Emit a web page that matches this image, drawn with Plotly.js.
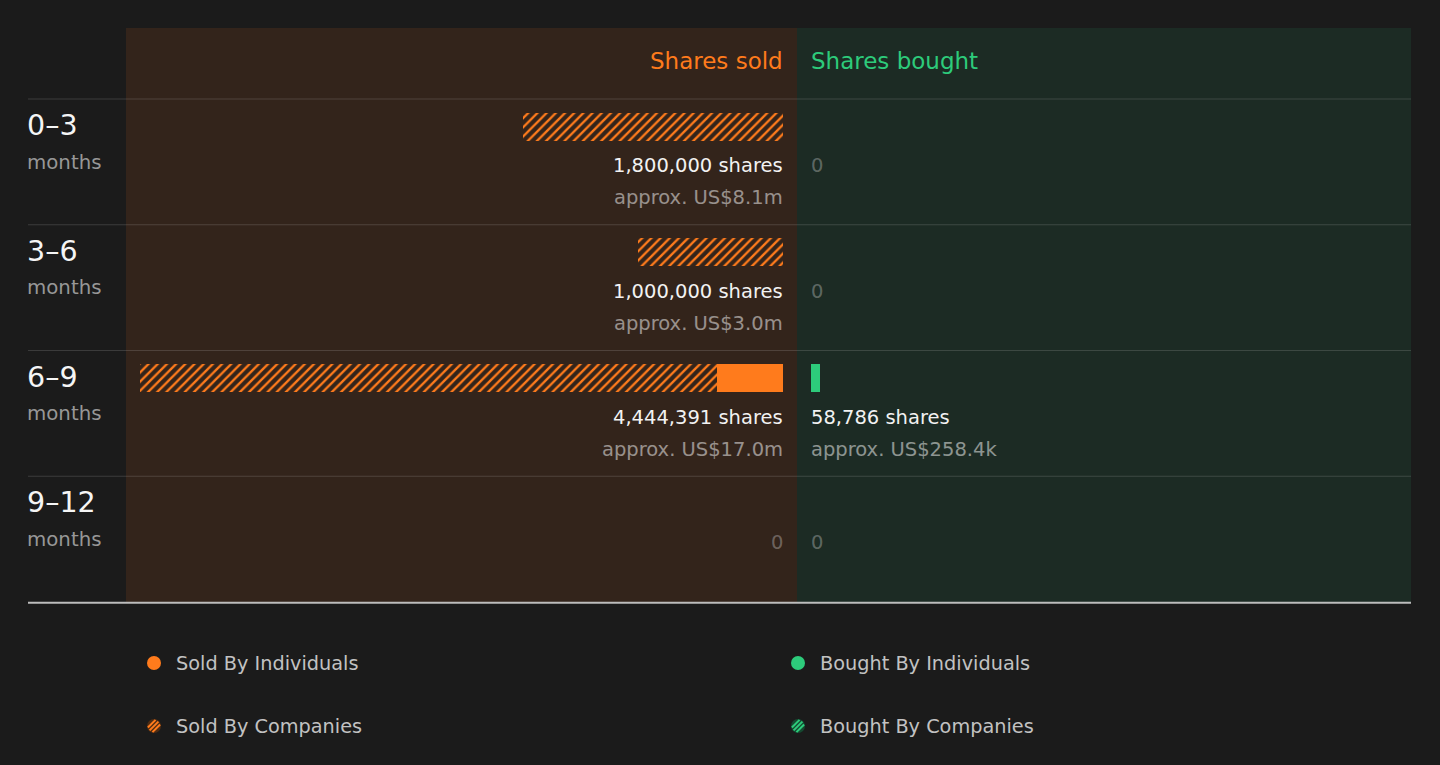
<!DOCTYPE html>
<html>
<head>
<meta charset="utf-8">
<script src="https://cdn.plot.ly/plotly-3.0.1.min.js"></script>
<style>
  html, body { margin: 0; padding: 0; background: #1b1b1b; }
  #chart { width: 1440px; height: 765px; }
</style>
</head>
<body>
<div id="chart"></div>
<script>
// data
const periods = ['0–3', '3–6', '6–9', '9–12'];
const periodUnit = 'months';
const soldIndividuals = [0, 0, 456000, 0];
const soldCompanies = [1800000, 1000000, 3988391, 0];
const soldTotals = [1800000, 1000000, 4444391, 0];
const soldValue = ['US$8.1m', 'US$3.0m', 'US$17.0m', ''];
const boughtIndividuals = [0, 0, 58786, 0];
const boughtCompanies = [0, 0, 0, 0];
const boughtTotals = [0, 0, 58786, 0];
const boughtValue = ['', '', 'US$258.4k', ''];
const legendLabels = ['Sold By Individuals', 'Sold By Companies', 'Bought By Individuals', 'Bought By Companies'];

// look
const W = 1440, H = 765;
const orange = '#ff7b1c';
const green = '#2dcb7b';
const font = 'DejaVu Sans';
const rowPx = 125.75;      // height of one period row
const topPx = 28, rowTopPx = 99, bottomPx = 602;
const pxPerShare = 643 / 4444391;

function px(x) { return x / W; }
function py(y) { return (H - y) / H; }
function rowY(i, offPx) { return i + offPx / rowPx; }

const barY = periods.map((p, i) => rowY(i, 27.5));
const barW = 28 / rowPx;

const hatch = c => ({shape: '/', size: 6.5, solidity: 0.36, fgcolor: c, bgcolor: 'rgba(0,0,0,0)', fillmode: 'replace'});

const traces = [
  {type: 'bar', orientation: 'h', name: legendLabels[0], x: soldIndividuals, y: barY, width: barW,
   xaxis: 'x', yaxis: 'y', marker: {color: orange, line: {width: 0}}},
  {type: 'bar', orientation: 'h', name: legendLabels[1], x: soldCompanies, y: barY, width: barW,
   xaxis: 'x', yaxis: 'y', marker: {color: orange, line: {width: 0}, pattern: hatch(orange)}},
  {type: 'bar', orientation: 'h', name: legendLabels[2], x: boughtIndividuals, y: barY, width: barW,
   xaxis: 'x2', yaxis: 'y', marker: {color: green, line: {width: 0}}},
  {type: 'bar', orientation: 'h', name: legendLabels[3], x: boughtCompanies, y: barY, width: barW,
   xaxis: 'x2', yaxis: 'y', marker: {color: green, line: {width: 0}, pattern: hatch(green)}}
];

const hidden = {showgrid: false, zeroline: false, showticklabels: false, showline: false, ticks: '', fixedrange: true};

const annotations = [];
function note(text, xref, x, y, anchor, size, color, shift) {
  annotations.push({text: text, xref: xref, x: x, yref: 'y', y: y, xanchor: anchor, yanchor: 'middle',
    xshift: shift, showarrow: false, font: {family: font, size: size, color: color}});
}

note('Shares sold', 'x', 0, rowY(0, 61 - rowTopPx), 'right', 23, orange, 2);
note('Shares bought', 'x2', 0, rowY(0, 61 - rowTopPx), 'left', 23, green, -2);

periods.forEach((p, i) => {
  note(p, 'paper', px(28), rowY(i, 26.5), 'left', 28.5, '#f5f5f5', -3);
  note(periodUnit, 'paper', px(28), rowY(i, 63), 'left', 19.8, '#979797', -3);

  if (soldTotals[i] > 0) {
    note(soldTotals[i].toLocaleString('en-US') + ' shares', 'x', 0, rowY(i, 66.5), 'right', 19.5, '#f2f2f2', 2);
    note('approx. ' + soldValue[i], 'x', 0, rowY(i, 98.5), 'right', 19.5, 'rgba(255,255,255,0.5)', 2);
  } else {
    note('0', 'x', 0, rowY(i, 66.5), 'right', 19.5, 'rgba(255,255,255,0.3)', 2);
  }
  if (boughtTotals[i] > 0) {
    note(boughtTotals[i].toLocaleString('en-US') + ' shares', 'x2', 0, rowY(i, 66.5), 'left', 19.5, '#f2f2f2', -2);
    note('approx. ' + boughtValue[i], 'x2', 0, rowY(i, 98.5), 'left', 19.5, 'rgba(255,255,255,0.5)', -2);
  } else {
    note('0', 'x2', 0, rowY(i, 66.5), 'left', 19.5, 'rgba(255,255,255,0.3)', -2);
  }
});

const shapes = [
  {type: 'rect', xref: 'paper', yref: 'paper', x0: px(126), x1: px(797), y0: py(bottomPx), y1: py(topPx),
   fillcolor: '#33241b', line: {width: 0}, layer: 'below'},
  {type: 'rect', xref: 'paper', yref: 'paper', x0: px(797), x1: px(1411), y0: py(bottomPx), y1: py(topPx),
   fillcolor: '#1c2b24', line: {width: 0}, layer: 'below'}
];
for (let i = 0; i < periods.length; i++) {
  shapes.push({type: 'line', xref: 'paper', yref: 'y', x0: px(28), x1: px(1411), y0: i, y1: i,
    line: {color: 'rgba(255,255,255,0.14)', width: 1}, layer: 'below'});
}
shapes.push({type: 'line', xref: 'paper', yref: 'paper', x0: px(28), x1: px(1411), y0: py(602.7), y1: py(602.7),
  line: {color: '#bdbdbd', width: 2}});

// legend, drawn by hand to get round markers in two columns
const legendSpots = [[154, 663, orange, false], [154, 726, orange, true], [798, 663, green, false], [798, 726, green, true]];
legendSpots.forEach((s, k) => {
  const cx = s[0], cy = s[1], c = s[2], r = 7;
  shapes.push({type: 'circle', xref: 'paper', yref: 'paper', x0: px(cx - r), x1: px(cx + r), y0: py(cy + r), y1: py(cy - r),
    fillcolor: s[3] ? (c === orange ? '#4e2c13' : '#154a31') : c, line: {width: 0}});
  if (s[3]) {
    [-4.6, 0, 4.6].forEach(off => {
      const d = off / Math.SQRT2;
      const hl = Math.sqrt(r * r - d * d) - 0.8;
      const mx = cx + d / Math.SQRT2, my = cy + d / Math.SQRT2;
      const dx = hl / Math.SQRT2;
      shapes.push({type: 'line', xref: 'paper', yref: 'paper',
        x0: px(mx - dx), y0: py(my + dx), x1: px(mx + dx), y1: py(my - dx),
        line: {color: c, width: 2}});
    });
  }
  annotations.push({text: legendLabels[k], xref: 'paper', yref: 'paper', x: px(cx + 22), y: py(cy), xshift: -2,
    xanchor: 'left', yanchor: 'middle', showarrow: false, font: {family: font, size: 19.3, color: '#c2c2c2'}});
});

const layout = {
  width: W, height: H,
  margin: {l: 0, r: 0, t: 0, b: 0, pad: 0},
  paper_bgcolor: '#1b1b1b',
  plot_bgcolor: 'rgba(0,0,0,0)',
  barmode: 'stack',
  showlegend: false,
  font: {family: font},
  xaxis: Object.assign({}, hidden, {domain: [px(126), px(783)], range: [657 / pxPerShare, 0]}),
  xaxis2: Object.assign({}, hidden, {domain: [px(811), px(1411)], range: [0, 600 / pxPerShare], anchor: 'y'}),
  yaxis: Object.assign({}, hidden, {domain: [py(bottomPx), py(topPx)], range: [periods.length, -(rowTopPx - topPx) / rowPx]}),
  annotations: annotations,
  shapes: shapes
};

Plotly.newPlot('chart', traces, layout, {staticPlot: true, displayModeBar: false});
</script>
</body>
</html>
